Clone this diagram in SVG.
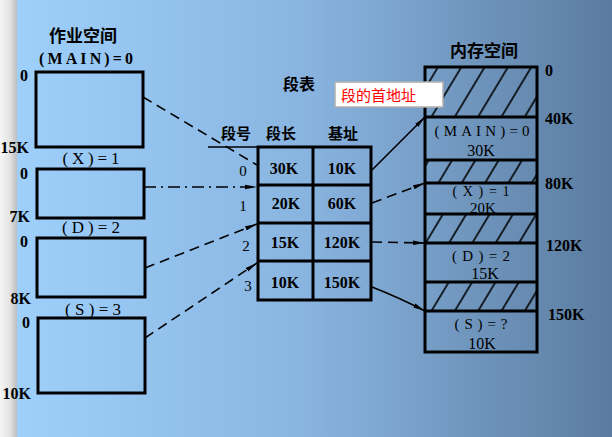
<svg xmlns="http://www.w3.org/2000/svg" width="612" height="437" viewBox="0 0 612 437">
<defs>
<linearGradient id="bg" x1="17" y1="0" x2="612" y2="0" gradientUnits="userSpaceOnUse">
<stop offset="0" stop-color="#9ed0fb"/>
<stop offset="0.5" stop-color="#88b3df"/>
<stop offset="1" stop-color="#5a7b9f"/>
</linearGradient>
<linearGradient id="strip" x1="0" y1="0" x2="17" y2="0" gradientUnits="userSpaceOnUse">
<stop offset="0" stop-color="#f6f6f6"/>
<stop offset="0.6" stop-color="#e2e2e2"/>
<stop offset="1" stop-color="#bdbdbd"/>
</linearGradient>
<pattern id="hatch" patternUnits="userSpaceOnUse" width="20" height="10" patternTransform="rotate(31)">
<line x1="10" y1="-1" x2="10" y2="11" stroke="#000" stroke-width="1.6"/>
</pattern>
<marker id="arr" viewBox="0 0 12 6" refX="12" refY="3" markerWidth="12" markerHeight="6" markerUnits="userSpaceOnUse" orient="auto">
<path d="M0,0.8 L12,3 L0,5.2 Z" fill="#000"/>
</marker>
<style>
.box{fill:none;stroke:#000;stroke-width:3}
.t{font-family:"Liberation Serif","Noto Sans CJK SC",serif;font-weight:bold;fill:#000}
.n{font-family:"Liberation Serif","Noto Sans CJK SC",serif;font-weight:normal;fill:#000}
.cjk{font-family:"Noto Sans CJK SC","Liberation Serif",sans-serif;font-weight:bold;fill:#000}
.s16{font-size:16px}
.mid{text-anchor:middle}
.end{text-anchor:end}
.conn{fill:none;stroke:#000;stroke-width:1.6}
.dash{stroke-dasharray:10 6}
.hat{fill:url(#hatch);stroke:none}
</style>
</defs>
<rect x="0" y="0" width="612" height="437" fill="url(#bg)"/>
<rect x="0" y="0" width="17" height="437" fill="url(#strip)"/>

<g id="workspace">
<text class="cjk mid" x="83" y="42" font-size="17">作业空间</text>
</g>
<g id="seg-main">
<text class="t mid s16" x="86" y="64" textLength="94" lengthAdjust="spacing">(MAIN)=0</text>
<rect class="box" x="36" y="72" width="107" height="75"/>
<text class="t end s16" x="28" y="81">0</text>
<text class="t end s16" x="29" y="153">15K</text>
</g>
<g id="seg-x">
<text class="n mid" x="91" y="164" font-size="17" textLength="57" lengthAdjust="spacing">(X)=1</text>
<rect class="box" x="37" y="169" width="107" height="49"/>
<text class="t end s16" x="28" y="179">0</text>
<text class="t end s16" x="30" y="222">7K</text>
</g>
<g id="seg-d">
<text class="n mid" x="91" y="233" font-size="17" textLength="58" lengthAdjust="spacing">(D)=2</text>
<rect class="box" x="37" y="238" width="108" height="59"/>
<text class="t end s16" x="28" y="247">0</text>
<text class="t end s16" x="31" y="304">8K</text>
</g>
<g id="seg-s">
<text class="n mid" x="93" y="315" font-size="17" textLength="56" lengthAdjust="spacing">(S)=3</text>
<rect class="box" x="38" y="318" width="107" height="75"/>
<text class="t end s16" x="30" y="328">0</text>
<text class="t end s16" x="31" y="399">10K</text>
</g>

<g id="segtable">
<text class="cjk mid" x="299" y="90" font-size="16">段表</text>
<text class="cjk mid" x="236" y="139" font-size="15">段号</text>
<text class="cjk mid" x="281" y="139" font-size="15">段长</text>
<text class="cjk mid" x="343" y="139" font-size="15">基址</text>
<line x1="208" y1="147" x2="258" y2="147" stroke="#000" stroke-width="1.6"/>
<rect class="box" x="258" y="147" width="113" height="153"/>
<line x1="313" y1="147" x2="313" y2="300" stroke="#000" stroke-width="3"/>
<line x1="258" y1="185" x2="371" y2="185" stroke="#000" stroke-width="3"/>
<line x1="258" y1="223" x2="371" y2="223" stroke="#000" stroke-width="3"/>
<line x1="258" y1="261" x2="371" y2="261" stroke="#000" stroke-width="3"/>
<text class="n mid" x="243" y="176" font-size="15">0</text>
<text class="n mid" x="243" y="211" font-size="15">1</text>
<text class="n mid" x="246" y="251" font-size="15">2</text>
<text class="n mid" x="248" y="291" font-size="15">3</text>
<text class="t mid s16" x="284" y="174">30K</text>
<text class="t mid s16" x="342" y="174">10K</text>
<text class="t mid s16" x="286" y="209">20K</text>
<text class="t mid s16" x="342" y="209">60K</text>
<text class="t mid s16" x="285" y="248">15K</text>
<text class="t mid s16" x="342" y="248">120K</text>
<text class="t mid s16" x="285" y="288">10K</text>
<text class="t mid s16" x="342" y="288">150K</text>
</g>

<g id="memory">
<text class="cjk mid" x="484" y="57" font-size="17">内存空间</text>
<rect class="hat" x="425" y="67" width="112" height="50"/>
<rect class="hat" x="425" y="160" width="112" height="23"/>
<rect class="hat" x="425" y="214" width="112" height="29"/>
<rect class="hat" x="425" y="282" width="112" height="29"/>
<rect class="box" x="425" y="67" width="112" height="285"/>
<g stroke="#000" stroke-width="3">
<line x1="425" y1="117" x2="537" y2="117"/>
<line x1="425" y1="160" x2="537" y2="160"/>
<line x1="425" y1="183" x2="537" y2="183"/>
<line x1="425" y1="214" x2="537" y2="214"/>
<line x1="425" y1="243" x2="537" y2="243"/>
<line x1="425" y1="282" x2="537" y2="282"/>
<line x1="425" y1="311" x2="537" y2="311"/>
</g>
<text class="n mid" x="482" y="136" font-size="15" textLength="95" lengthAdjust="spacing">(MAIN)=0</text>
<text class="n mid" x="481" y="156" font-size="16">30K</text>
<text class="n mid" x="481" y="196" font-size="14" textLength="57" lengthAdjust="spacing">(X)=1</text>
<text class="n mid" x="483" y="213" font-size="15">20K</text>
<text class="n mid" x="481" y="261" font-size="15" textLength="58" lengthAdjust="spacing">(D)=2</text>
<text class="n mid" x="485" y="279" font-size="16">15K</text>
<text class="n mid" x="481" y="329" font-size="15" textLength="53" lengthAdjust="spacing">(S)=?</text>
<text class="n mid" x="482" y="349" font-size="16">10K</text>
<text class="t s16" x="545" y="76">0</text>
<text class="t s16" x="545" y="124">40K</text>
<text class="t s16" x="545" y="189">80K</text>
<text class="t s16" x="546" y="251">120K</text>
<text class="t s16" x="548" y="320">150K</text>
</g>

<g id="note">
<rect x="335" y="82" width="108" height="25" fill="#ffffff" stroke="#b0b0b0" stroke-width="1.5"/>
<text x="341" y="101" font-family="Noto Sans CJK SC, sans-serif" font-size="15" fill="#ff0000">段的首地址</text>
</g>

<g id="connectors">
<path class="conn dash" d="M143,97 L257,165"/>
<path class="conn" stroke-dasharray="12 5 2 5" d="M144,187 L257,187" marker-end="url(#arr)"/>
<path class="conn dash" d="M145,268 L257,224" marker-end="url(#arr)"/>
<path class="conn dash" d="M145,338 L257,263" marker-end="url(#arr)"/>
<path class="conn" d="M372,170 L425,117" marker-end="url(#arr)"/>
<path class="conn dash" d="M372,203 L425,183" marker-end="url(#arr)"/>
<path class="conn dash" d="M372,242 L425,243" marker-end="url(#arr)"/>
<path class="conn" d="M372,287 Q400,298 425,311" marker-end="url(#arr)"/>
</g>
</svg>
